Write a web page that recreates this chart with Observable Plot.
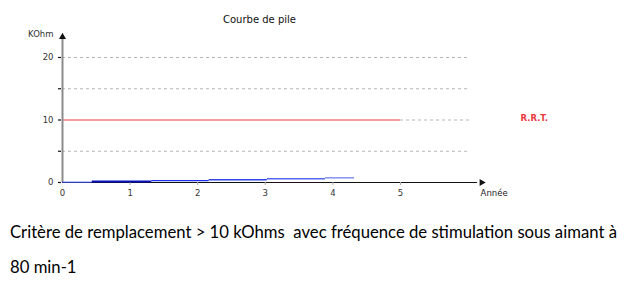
<!DOCTYPE html>
<html><head><meta charset="utf-8">
<script src="https://cdn.jsdelivr.net/npm/d3@7"></script>
<script src="https://cdn.jsdelivr.net/npm/@observablehq/plot@0.6"></script>
<style>
body{margin:0;background:#fff;width:634px;height:286px;overflow:hidden;}
#chart svg{display:block;}
#caption{font-family:Lato,sans-serif;font-size:16.7px;color:#000;margin:0 0 0 10px;line-height:35px;white-space:pre;position:relative;top:10px;}
</style></head>
<body>
<div id="chart"></div>
<div id="caption"></div>
<script>
const title = "Courbe de pile";
const yUnit = "KOhm";
const xUnit = "Année";
const rrtLabel = "R.R.T.";
const captionLines = ["Critère de remplacement > 10 kOhms  avec fréquence de stimulation sous aimant à", "80 min-1"];
const xTickValues = [0, 1, 2, 3, 4, 5];
const yTickValues = [0, 5, 10, 15, 20];
const yLabelValues = [0, 10, 20];
const gridValues = [5, 15, 20];
const rrtValue = 10;
const rrtEndYear = 5;
const gridEndYear = 6.02;
const xAxisEndYear = 6.2;
const yAxisEndKOhm = 23.3;
const stepStart = [0, 0.44, 1.32, 2.17, 3.03, 3.89];
const stepEnd = [0.44, 1.32, 2.17, 3.03, 3.89, 4.32];
const stepKOhm = [0.05, 0.15, 0.3, 0.45, 0.6, 0.75];

const segColors = ["#3a4cf5", "#0a10b8", "#1f2fe8", "#2f45ea", "#5366ee", "#8e99f0"];
const segWidths = [1, 2, 1.4, 1.4, 1.4, 1.6];
const steps = stepStart.map((s, i) => ({i, x1: s, x2: stepEnd[i], y: stepKOhm[i]}));
const font = "DejaVu Sans, sans-serif";

const chart = Plot.plot({
  width: 634, height: 205,
  marginLeft: 62, marginRight: 234, marginTop: 57, marginBottom: 23,
  x: {type: "linear", domain: [0, 5], axis: null},
  y: {type: "linear", domain: [0, 20], axis: null},
  color: {type: "ordinal", domain: d3.range(segColors.length), range: segColors},
  style: {fontFamily: font, background: "#fff", overflow: "visible"},
  marks: [
    Plot.ruleY(gridValues, {x1: 0, x2: gridEndYear, stroke: "#b5b5b5", strokeDasharray: "3,3", strokeWidth: 1}),
    Plot.ruleY([rrtValue], {x1: rrtEndYear, x2: gridEndYear, stroke: "#b5b5b5", strokeDasharray: "3,3", strokeWidth: 1}),
    Plot.ruleY([rrtValue], {x1: 0, x2: rrtEndYear, stroke: "#e8393f", strokeWidth: 1}),
    // y axis
    Plot.ruleX([0], {y1: 0, y2: yAxisEndKOhm, stroke: "#8a8a8a", strokeWidth: 2}),
    Plot.dot([yAxisEndKOhm], {x: 0, y: d => d, symbol: "triangle", r: 2.6, fill: "#111", stroke: null}),
    Plot.ruleY(yTickValues, {y: d => d, x1: 0, x2: 0, insetLeft: -4, insetRight: 1, stroke: "#111", strokeWidth: 1.2}),
    Plot.text(yLabelValues, {y: d => d, x: 0, text: d => String(d), textAnchor: "end", dx: -9, fontSize: 8.5, fill: "#333"}),
    Plot.text([yUnit], {x: 0, y: yAxisEndKOhm, text: d => d, textAnchor: "end", dx: -9, dy: -3, fontSize: 8.5, fill: "#333"}),
    // x axis
    Plot.ruleY([0], {x1: 0, x2: xAxisEndYear - 0.06, stroke: "#111", strokeWidth: 1.2}),
    Plot.ruleX(xTickValues.slice(1), {x: d => d, y1: 0, y2: 0, insetBottom: -3, stroke: "#aaa", strokeWidth: 1}),
    Plot.dot([xAxisEndYear], {x: d => d, y: 0, symbol: "triangle", rotate: 90, r: 2.6, fill: "#111", stroke: null}),
    Plot.text(xTickValues, {x: d => d, y: 0, text: d => String(d), dy: 11, fontSize: 8.5, fill: "#333"}),
    Plot.text([xUnit], {x: xAxisEndYear, y: 0, text: d => d, textAnchor: "start", dx: -1, dy: 11, fontSize: 8.5, fill: "#222"}),
    // battery curve
    Plot.ruleY(steps, {x1: "x1", x2: "x2", y: "y", stroke: "i", strokeWidth: d => segWidths[d.i]}),
    // labels
    Plot.text([rrtValue], {y: d => d, frameAnchor: "right", dx: 120, dy: -2, text: () => rrtLabel, textAnchor: "start", fill: "#e8393f", fontWeight: "bold", fontSize: 8.5}),
    Plot.text([title], {frameAnchor: "top", dx: 28, dy: -42, text: d => d, fontSize: 10, fill: "#111"})
  ]
});
document.getElementById("chart").appendChild(chart);
document.getElementById("caption").textContent = captionLines.join("\n");
</script>
</body></html>
